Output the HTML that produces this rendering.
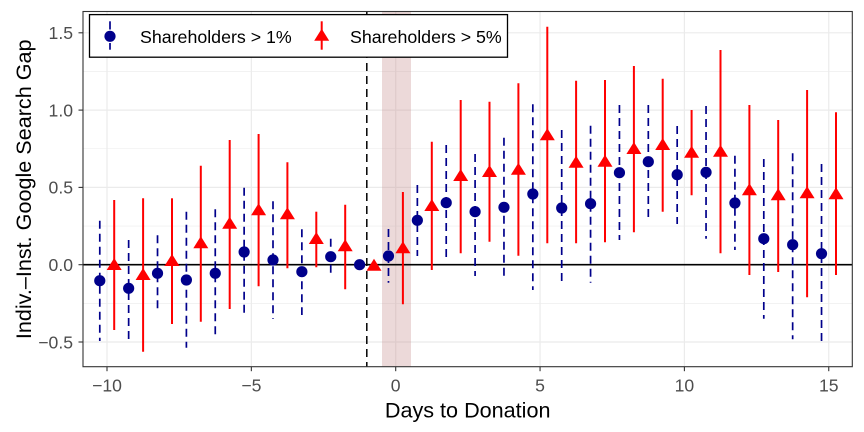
<!DOCTYPE html>
<html><head><meta charset="utf-8"><style>
html,body{margin:0;padding:0;background:#fff;}
svg{display:block;}
text{font-family:"Liberation Sans",Arial,sans-serif;}
</style></head><body>
<svg width="864" height="432" viewBox="0 0 864 432" xmlns="http://www.w3.org/2000/svg">
<defs><clipPath id="p"><rect x="83" y="11.5" width="769.3" height="355.2"/></clipPath></defs>
<rect x="0" y="0" width="864" height="432" fill="#fff"/>
<g clip-path="url(#p)">
<g stroke="#ebebeb" stroke-width="0.6">
<line x1="83" x2="853" y1="303.35" y2="303.35"/><line x1="83" x2="853" y1="226.05" y2="226.05"/>
<line x1="83" x2="853" y1="148.75" y2="148.75"/><line x1="83" x2="853" y1="71.45" y2="71.45"/>
</g>
<g stroke="#ebebeb" stroke-width="1.2">
<line x1="83" x2="853" y1="342" y2="342"/><line x1="83" x2="853" y1="264.7" y2="264.7"/>
<line x1="83" x2="853" y1="187.4" y2="187.4"/><line x1="83" x2="853" y1="110.1" y2="110.1"/>
<line x1="83" x2="853" y1="32.8" y2="32.8"/>
<line y1="11" y2="367" x1="107" x2="107"/><line y1="11" y2="367" x1="251.35" x2="251.35"/>
<line y1="11" y2="367" x1="395.7" x2="395.7"/><line y1="11" y2="367" x1="540.05" x2="540.05"/>
<line y1="11" y2="367" x1="684.4" x2="684.4"/><line y1="11" y2="367" x1="828.75" x2="828.75"/>
</g>
<rect x="382" y="11" width="29" height="356" fill="#c08080" fill-opacity="0.3"/>
<line x1="83" x2="853" y1="264.7" y2="264.7" stroke="#000" stroke-width="1.6"/>
<line x1="366.8" x2="366.8" y1="11" y2="367" stroke="#000" stroke-width="1.5" stroke-dasharray="8 5"/>
<!-- blue error bars -->
<g stroke="#00008b" stroke-width="1.7" stroke-dasharray="8 5">
<line x1="99.78" x2="99.78" y1="220.7" y2="341"/>
<line x1="128.65" x2="128.65" y1="240" y2="341"/>
<line x1="157.52" x2="157.52" y1="235.3" y2="312.3"/>
<line x1="186.39" x2="186.39" y1="211.7" y2="347.7"/>
<line x1="215.26" x2="215.26" y1="209.3" y2="337.3"/>
<line x1="244.13" x2="244.13" y1="187.7" y2="316"/>
<line x1="273" x2="273" y1="201.3" y2="319"/>
<line x1="301.87" x2="301.87" y1="229.3" y2="315"/>
<line x1="330.74" x2="330.74" y1="238.7" y2="275"/>
<line x1="388.48" x2="388.48" y1="229" y2="282.7"/>
<line x1="417.35" x2="417.35" y1="185" y2="256"/>
<line x1="446.22" x2="446.22" y1="145" y2="260.7"/>
<line x1="475.09" x2="475.09" y1="154" y2="276"/>
<line x1="503.96" x2="503.96" y1="137.7" y2="280.7"/>
<line x1="532.83" x2="532.83" y1="104.3" y2="290"/>
<line x1="561.7" x2="561.7" y1="130" y2="286"/>
<line x1="590.57" x2="590.57" y1="125.7" y2="282.7"/>
<line x1="619.44" x2="619.44" y1="105" y2="240"/>
<line x1="648.31" x2="648.31" y1="105" y2="218.3"/>
<line x1="677.18" x2="677.18" y1="126" y2="224"/>
<line x1="706.05" x2="706.05" y1="106" y2="238.7"/>
<line x1="734.92" x2="734.92" y1="155.7" y2="250"/>
<line x1="763.79" x2="763.79" y1="159" y2="318.7"/>
<line x1="792.66" x2="792.66" y1="153.3" y2="339.3"/>
<line x1="821.53" x2="821.53" y1="164" y2="343.3"/>
</g>
<g fill="#00008b">
<circle cx="99.78" cy="280.7" r="5.6"/><circle cx="128.65" cy="288.3" r="5.6"/>
<circle cx="157.52" cy="273.3" r="5.6"/><circle cx="186.39" cy="280" r="5.6"/>
<circle cx="215.26" cy="273.3" r="5.6"/><circle cx="244.13" cy="252" r="5.6"/>
<circle cx="273" cy="260" r="5.6"/><circle cx="301.87" cy="271.7" r="5.6"/>
<circle cx="330.74" cy="256.7" r="5.6"/><circle cx="359.61" cy="264.7" r="5.6"/>
<circle cx="388.48" cy="256" r="5.6"/><circle cx="417.35" cy="220.3" r="5.6"/>
<circle cx="446.22" cy="202.7" r="5.6"/><circle cx="475.09" cy="211.7" r="5.6"/>
<circle cx="503.96" cy="207.3" r="5.6"/><circle cx="532.83" cy="194" r="5.6"/>
<circle cx="561.7" cy="208" r="5.6"/><circle cx="590.57" cy="203.7" r="5.6"/>
<circle cx="619.44" cy="172.7" r="5.6"/><circle cx="648.31" cy="161.7" r="5.6"/>
<circle cx="677.18" cy="174.7" r="5.6"/><circle cx="706.05" cy="172.3" r="5.6"/>
<circle cx="734.92" cy="203" r="5.6"/><circle cx="763.79" cy="238.7" r="5.6"/>
<circle cx="792.66" cy="244.7" r="5.6"/><circle cx="821.53" cy="253.7" r="5.6"/>
</g>
<!-- red error bars -->
<g stroke="#ff0000" stroke-width="2">
<line x1="114.2" x2="114.2" y1="200" y2="330"/>
<line x1="143.1" x2="143.1" y1="198.3" y2="351.7"/>
<line x1="172" x2="172" y1="198.3" y2="324"/>
<line x1="200.8" x2="200.8" y1="165.7" y2="321.7"/>
<line x1="229.7" x2="229.7" y1="140" y2="309"/>
<line x1="258.6" x2="258.6" y1="134" y2="286.3"/>
<line x1="287.4" x2="287.4" y1="162.3" y2="268.3"/>
<line x1="316.3" x2="316.3" y1="211.7" y2="267.3"/>
<line x1="345.2" x2="345.2" y1="204.7" y2="289.3"/>
<line x1="402.9" x2="402.9" y1="192" y2="304.3"/>
<line x1="431.8" x2="431.8" y1="141.7" y2="270"/>
<line x1="460.7" x2="460.7" y1="100" y2="253.3"/>
<line x1="489.5" x2="489.5" y1="101.7" y2="241.7"/>
<line x1="518.4" x2="518.4" y1="83.3" y2="255.7"/>
<line x1="547.3" x2="547.3" y1="26.7" y2="243.3"/>
<line x1="576.1" x2="576.1" y1="80.7" y2="243.3"/>
<line x1="605" x2="605" y1="80" y2="242.3"/>
<line x1="633.9" x2="633.9" y1="66" y2="232.3"/>
<line x1="662.7" x2="662.7" y1="78.7" y2="211.7"/>
<line x1="691.6" x2="691.6" y1="110" y2="195.3"/>
<line x1="720.5" x2="720.5" y1="50" y2="253.3"/>
<line x1="749.4" x2="749.4" y1="105" y2="275"/>
<line x1="778.2" x2="778.2" y1="120" y2="272"/>
<line x1="807.1" x2="807.1" y1="90" y2="297.3"/>
<line x1="836" x2="836" y1="112.3" y2="275"/>
</g>
<g fill="#ff0000">
<polygon points="114.2,258 106.7,270 121.7,270"/>
<polygon points="143.1,268 135.6,280 150.6,280"/>
<polygon points="172,254 164.5,266 179.5,266"/>
<polygon points="200.8,236.3 193.3,248.3 208.3,248.3"/>
<polygon points="229.7,216.7 222.2,228.7 237.2,228.7"/>
<polygon points="258.6,203.3 251.1,215.3 266.1,215.3"/>
<polygon points="287.4,207.3 279.9,219.3 294.9,219.3"/>
<polygon points="316.3,232 308.8,244 323.8,244"/>
<polygon points="345.2,239.3 337.7,251.3 352.7,251.3"/>
<polygon points="374,258.7 366.5,270.7 381.5,270.7"/>
<polygon points="402.9,241.3 395.4,253.3 410.4,253.3"/>
<polygon points="431.8,199 424.3,211 439.3,211"/>
<polygon points="460.7,169 453.2,181 468.2,181"/>
<polygon points="489.5,165 482,177 497,177"/>
<polygon points="518.4,162.7 510.9,174.7 525.9,174.7"/>
<polygon points="547.3,128.3 539.8,140.3 554.8,140.3"/>
<polygon points="576.1,155.7 568.6,167.7 583.6,167.7"/>
<polygon points="605,154.7 597.5,166.7 612.5,166.7"/>
<polygon points="633.9,142 626.4,154 641.4,154"/>
<polygon points="662.7,138 655.2,150 670.2,150"/>
<polygon points="691.6,145.7 684.1,157.7 699.1,157.7"/>
<polygon points="720.5,144.7 713,156.7 728,156.7"/>
<polygon points="749.4,183.3 741.9,195.3 756.9,195.3"/>
<polygon points="778.2,188.3 770.7,200.3 785.7,200.3"/>
<polygon points="807.1,186.3 799.6,198.3 814.6,198.3"/>
<polygon points="836,187.3 828.5,199.3 843.5,199.3"/>
</g>
</g>
<!-- panel border -->
<rect x="83" y="11.5" width="769.3" height="355.2" fill="none" stroke="#333" stroke-width="1.1"/>
<!-- ticks -->
<g stroke="#333" stroke-width="1.1">
<line x1="78.5" x2="83" y1="342" y2="342"/><line x1="78.5" x2="83" y1="264.7" y2="264.7"/>
<line x1="78.5" x2="83" y1="187.4" y2="187.4"/><line x1="78.5" x2="83" y1="110.1" y2="110.1"/>
<line x1="78.5" x2="83" y1="32.8" y2="32.8"/>
<line y1="366.7" y2="371.2" x1="107" x2="107"/><line y1="366.7" y2="371.2" x1="251.35" x2="251.35"/>
<line y1="366.7" y2="371.2" x1="395.7" x2="395.7"/><line y1="366.7" y2="371.2" x1="540.05" x2="540.05"/>
<line y1="366.7" y2="371.2" x1="684.4" x2="684.4"/><line y1="366.7" y2="371.2" x1="828.75" x2="828.75"/>
</g>
<g fill="#4d4d4d" font-size="17.6" text-anchor="end">
<text x="73" y="348.3">−0.5</text><text x="73" y="271">0.0</text>
<text x="73" y="193.7">0.5</text><text x="73" y="116.4">1.0</text>
<text x="73" y="39.1">1.5</text>
</g>
<g fill="#4d4d4d" font-size="17.6" text-anchor="middle">
<text x="107" y="391.5">−10</text><text x="251.35" y="391.5">−5</text>
<text x="395.7" y="391.5">0</text><text x="540.05" y="391.5">5</text>
<text x="684.4" y="391.5">10</text><text x="828.75" y="391.5">15</text>
</g>
<text x="467.7" y="417.3" font-size="21.6" text-anchor="middle" fill="#000">Days to Donation</text>
<text transform="translate(31,189.3) rotate(-90)" font-size="21.6" text-anchor="middle" fill="#000">Indiv.–Inst. Google Search Gap</text>
<!-- legend -->
<rect x="89.5" y="14.6" width="418" height="42.6" fill="#fff" stroke="#000" stroke-width="1.3"/>
<g stroke="#00008b" stroke-width="1.7">
<line x1="110" x2="110" y1="21.3" y2="29.5"/><line x1="110" x2="110" y1="43" y2="49.7"/>
</g>
<circle cx="110" cy="36.3" r="5.6" fill="#00008b"/>
<line x1="321.7" x2="321.7" y1="21.3" y2="49.7" stroke="#ff0000" stroke-width="2"/>
<polygon points="321.7,28.7 314.2,40.7 329.2,40.7" fill="#ff0000"/>
<text x="140" y="43" font-size="17.8" fill="#000">Shareholders &gt; 1%</text>
<text x="350" y="43" font-size="17.8" fill="#000">Shareholders &gt; 5%</text>
</svg>
</body></html>
